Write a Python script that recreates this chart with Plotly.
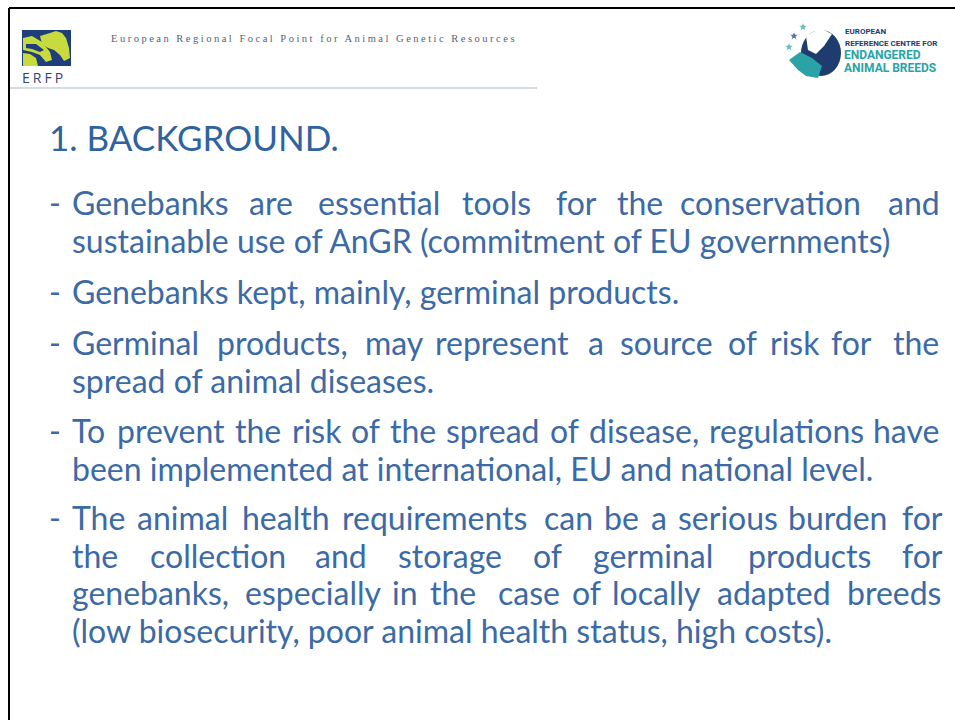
import plotly.graph_objects as go

# ---------------- content ----------------
header_text = "European Regional Focal Point for Animal Genetic Resources"
erfp_label = "ERFP"
right_logo_lines = ["EUROPEAN", "REFERENCE CENTRE FOR", "ENDANGERED", "ANIMAL BREEDS"]
title_text = "1. BACKGROUND."

body_lines = [
    "Genebanks are essential tools for the conservation and".split(),
    "sustainable use of AnGR (commitment of EU governments)".split(),
    "Genebanks kept, mainly, germinal products.".split(),
    "Germinal products, may represent a source of risk for the".split(),
    "spread of animal diseases.".split(),
    "To prevent the risk of the spread of disease, regulations have".split(),
    "been implemented at international, EU and national level.".split(),
    "The animal health requirements can be a serious burden for".split(),
    "the collection and storage of germinal products for".split(),
    "genebanks, especially in the case of locally adapted breeds".split(),
    "(low biosecurity, poor animal health status, high costs).".split(),
]
bullet_flags = [True, False, True, True, False, True, False, True, False, False, False]

# ---------------- layout (positions) ----------------
body_baselines = [214, 252, 303, 354, 392, 442, 480, 529, 567, 604, 642]
LEFT, RIGHT = 72, 940
word_x = [
    [72, 249, 318, 462, 556, 617, 680, 888],
    None,
    None,
    [72, 217, 365, 435, 588, 620, 728, 770, 831, 893],
    None,
    "justify",
    None,
    [72, 137, 242, 342, 544, 604, 651, 678, 788, 902],
    [72, 150, 315, 398, 533, 593, 748, 902],
    [72, 245, 392, 430, 498, 572, 612, 717, 847],
    None,
]

BODY_FONT = "Lato"
BODY_SIZE = 32
BODY_COLOR = "#3b6aa6"
TITLE_COLOR = "#2f62a0"
K = 12  # baseline -> middle offset

# rough advance widths (em) for Lato, used only to justify a line
W = dict(a=.51, b=.56, c=.46, d=.56, e=.52, f=.32, g=.50, h=.56, i=.24, j=.24, k=.50, l=.24,
         m=.84, n=.56, o=.56, p=.56, q=.56, r=.36, s=.42, t=.35, u=.56, v=.49, w=.75, x=.48,
         y=.49, z=.44, T=.53)
W[","] = .22
W["."] = .22

def word_width(w):
    return sum(W.get(ch, .55) for ch in w) * BODY_SIZE

def justify(words):
    widths = [word_width(w) for w in words]
    gap = (RIGHT - LEFT - sum(widths)) / (len(words) - 1)
    xs, x = [], LEFT
    for wd in widths:
        xs.append(x)
        x += wd + gap
    return xs

fig = go.Figure()
annotations = []
shapes = []

def add_text(x, y, text, size, color, family, xanchor="left", yanchor="middle"):
    annotations.append(dict(x=x, y=y, xref="x", yref="y", text=text, showarrow=False,
                            xanchor=xanchor, yanchor=yanchor,
                            font=dict(family=family, size=size, color=color)))

# slide border (top and left)
shapes.append(dict(type="line", x0=9, x1=955, y0=8, y1=8, line=dict(color="black", width=2)))
shapes.append(dict(type="line", x0=9, x1=9, y0=8, y1=720, line=dict(color="black", width=2)))
# header rule
shapes.append(dict(type="line", x0=10, x1=537, y0=88, y1=88, line=dict(color="#a8b7c7", width=1.2)))

# ERFP logo: navy square with lime horse heads
NAVY, LIME = "#1f3f7c", "#c7da3e"
shapes.append(dict(type="rect", x0=22, x1=71, y0=30, y1=66, fillcolor=NAVY, line=dict(width=0)))
shapes.append(dict(type="path", path="M 40 36 L 50 33 L 56 31 L 62 33 L 66 38 L 69 48 L 70 58 L 64 61 L 60 55 L 54 50 L 48 48 L 42 44 Z",
                   fillcolor=LIME, line=dict(width=0)))
shapes.append(dict(type="path", path="M 23 38 L 32 36 L 42 42 L 50 52 L 52 60 L 46 62 L 40 55 L 32 52 L 23 50 Z",
                   fillcolor=LIME, line=dict(width=0)))
shapes.append(dict(type="path", path="M 23 53 L 30 54 L 36 58 L 38 66 L 23 66 Z",
                   fillcolor=LIME, line=dict(width=0)))
shapes.append(dict(type="path", path="M 26 44 L 36 44 L 44 50 L 40 52 L 32 49 L 26 48 Z",
                   fillcolor=NAVY, line=dict(width=0)))
add_text(20, 77, "<span style='letter-spacing:3px'>" + erfp_label + "</span>", 14, "#30466e", "Open Sans")

# header text
add_text(109, 38, "<span style='letter-spacing:2.5px'>" + header_text + "</span>", 10.5, "#55627c", "Liberation Serif")

# right logo emblem
shapes.append(dict(type="circle", x0=801, x1=841, y0=30, y1=76, fillcolor="#1f3c6e", line=dict(width=0)))
shapes.append(dict(type="path", path="M 806 36 L 820 28 L 832 34 L 824 46 L 816 54 L 808 50 Z",
                   fillcolor="#ffffff", line=dict(width=0)))
shapes.append(dict(type="path", path="M 789 60 L 800 52 L 812 58 L 822 66 L 818 78 L 806 76 L 798 70 Z",
                   fillcolor="#2aa3a6", line=dict(width=0)))
fig.add_trace(go.Scatter(x=[803, 794, 789], y=[27, 36, 47], mode="markers",
                         marker=dict(symbol="star", size=[8, 8, 8], color=["#2aa3a6", "#1f3c6e", "#2aa3a6"]),
                         hoverinfo="skip", showlegend=False))
add_text(843, 31, "<b>" + right_logo_lines[0] + "</b>", 8, "#1f3c6e", "Roboto")
add_text(843, 43, "<b>" + right_logo_lines[1] + "</b>", 8, "#1f3c6e", "Roboto")
add_text(842, 55, "<b>" + right_logo_lines[2] + "</b>", 12, "#2aa3a6", "Roboto")
add_text(842, 68, "<b>" + right_logo_lines[3] + "</b>", 12, "#2aa3a6", "Roboto")

# title
add_text(47, 137, title_text, 35, TITLE_COLOR, BODY_FONT)

# body
for i, words in enumerate(body_lines):
    yb = body_baselines[i] - K
    if bullet_flags[i]:
        add_text(47, yb, "-", BODY_SIZE, BODY_COLOR, BODY_FONT)
    xs = word_x[i]
    if xs == "justify":
        xs = justify(words)
    if xs is None:
        add_text(LEFT - 2, yb, " ".join(words), BODY_SIZE, BODY_COLOR, BODY_FONT)
    else:
        for w, x in zip(words, xs):
            add_text(x - 2, yb, w, BODY_SIZE, BODY_COLOR, BODY_FONT)

fig.update_layout(
    width=955, height=720, margin=dict(l=0, r=0, t=0, b=0),
    paper_bgcolor="white", plot_bgcolor="white",
    xaxis=dict(range=[0, 955], visible=False, fixedrange=True),
    yaxis=dict(range=[720, 0], visible=False, fixedrange=True),
    annotations=annotations, shapes=shapes, showlegend=False,
)
fig.write_html("out.html", config=dict(displayModeBar=False),
               post_script="document.body.style.margin='0px';document.body.style.overflow='hidden';")
